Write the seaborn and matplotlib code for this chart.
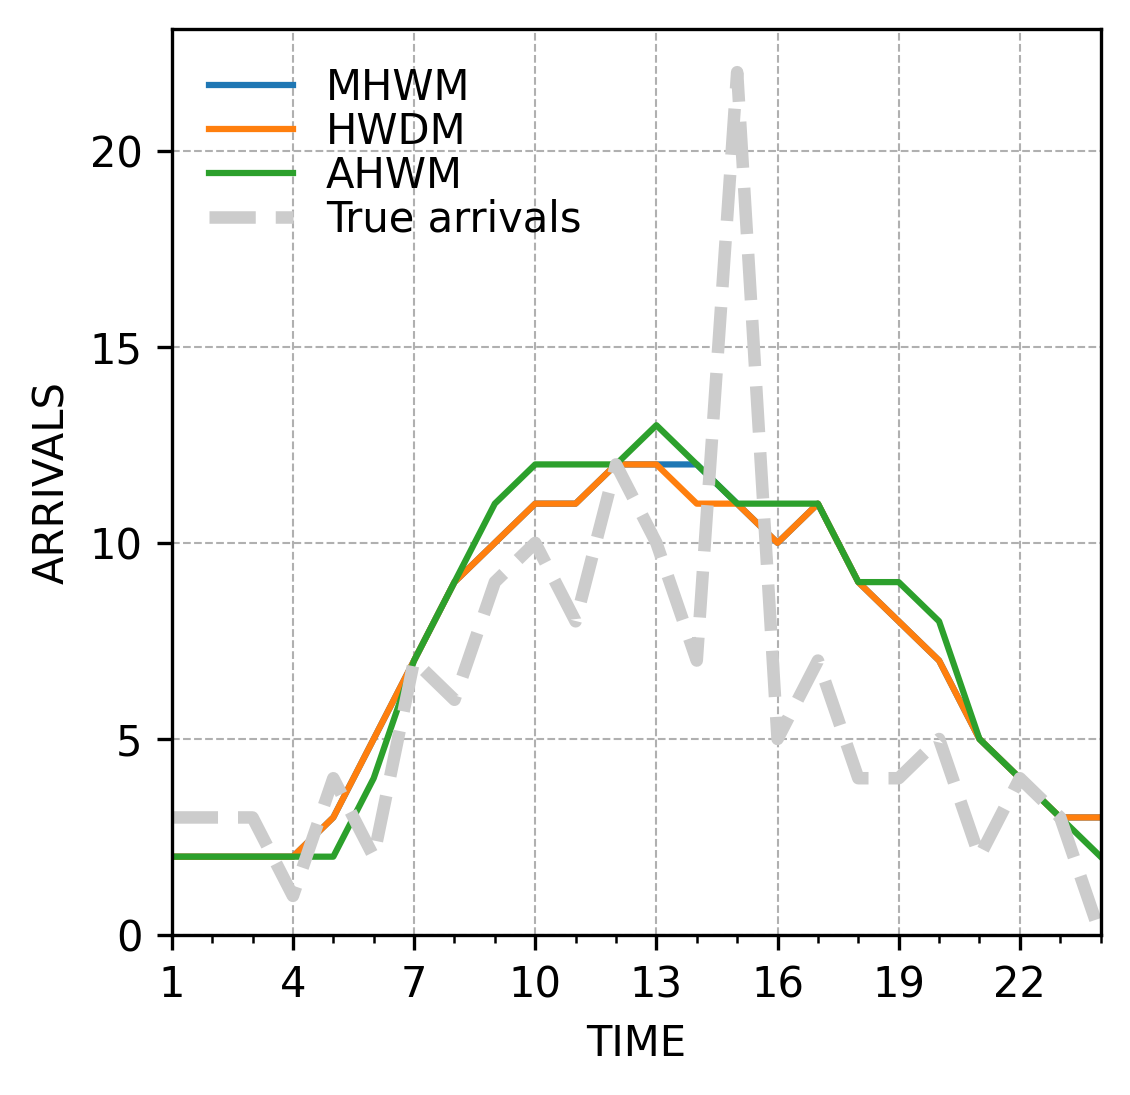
import matplotlib
matplotlib.use("Agg")
import matplotlib.pyplot as plt
import numpy as np
import seaborn as sns

time = np.arange(1, 25)
mhwm = [2, 2, 2, 2, 3, 5, 7, 9, 10, 11, 11, 12, 12, 12, 11, 10, 11, 9, 8, 7, 5, 4, 3, 3]
hwdm = [2, 2, 2, 2, 3, 5, 7, 9, 10, 11, 11, 12, 12, 11, 11, 10, 11, 9, 8, 7, 5, 4, 3, 3]
ahwm = [2, 2, 2, 2, 2, 4, 7, 9, 11, 12, 12, 12, 13, 12, 11, 11, 11, 9, 9, 8, 5, 4, 3, 2]
true_arrivals = [3, 3, 3, 1, 4, 2, 7, 6, 9, 10, 8, 12, 10, 7, 22, 5, 7, 4, 4, 5, 2, 4, 3, 0]

fig, ax = plt.subplots(figsize=(1130 / 300, 1095 / 300), dpi=300)
fig.subplots_adjust(left=0.152, right=0.974, top=0.9735, bottom=0.146)

sns.lineplot(x=time, y=mhwm, ax=ax, color="tab:blue", linewidth=1.5, label="MHWM")
sns.lineplot(x=time, y=hwdm, ax=ax, color="tab:orange", linewidth=1.5, label="HWDM")
sns.lineplot(x=time, y=ahwm, ax=ax, color="tab:green", linewidth=1.5, label="AHWM")
sns.lineplot(x=time, y=true_arrivals, ax=ax, color="#cccccc", linewidth=3,
             linestyle="--", label="True arrivals")

ax.set_xlim(1, 24)
ax.set_ylim(0, None)
ax.set_xticks(range(1, 25, 3))
ax.set_xticks(range(1, 25), minor=True)
ax.set_yticks([0, 5, 10, 15, 20])
ax.grid(True, which="major", linestyle="--", linewidth=0.5, color="#b0b0b0")
ax.set_xlabel("TIME")
ax.set_ylabel("ARRIVALS")
ax.legend(loc="upper left", frameon=False, labelspacing=0.05)

fig.savefig("out.png", dpi=300)
